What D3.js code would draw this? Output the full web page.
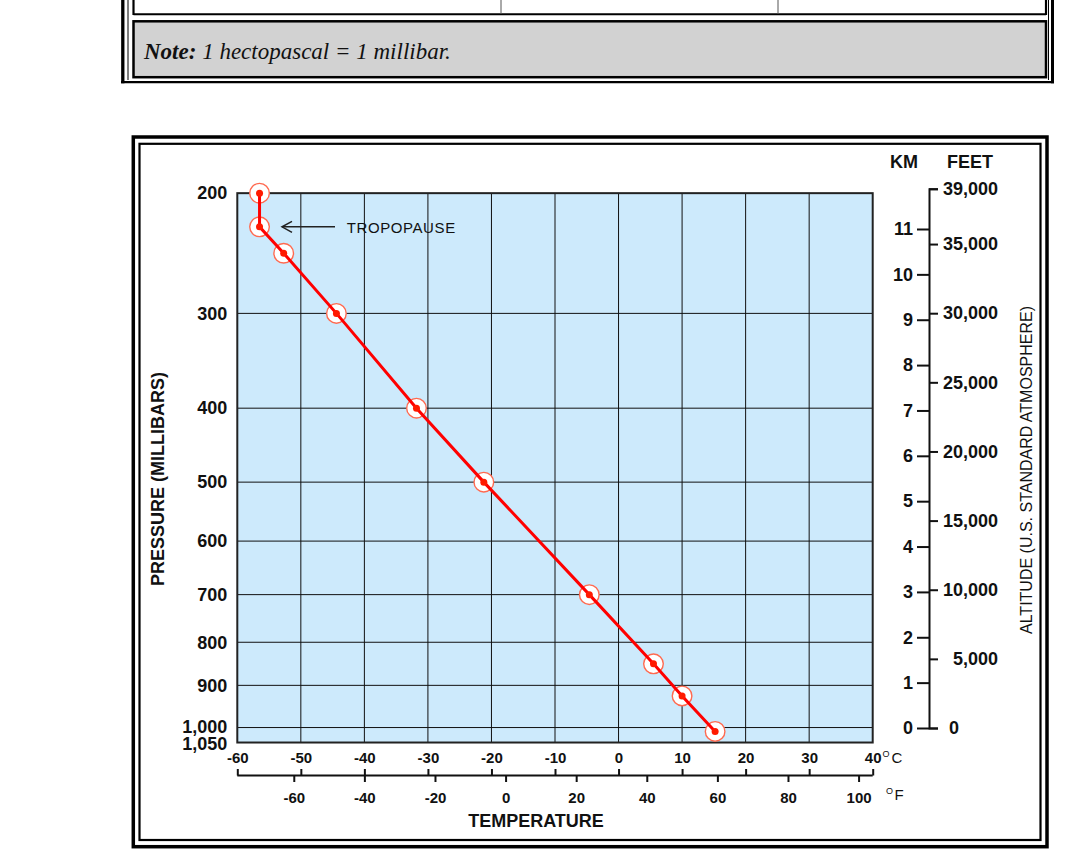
<!DOCTYPE html>
<html>
<head>
<meta charset="utf-8">
<script src="https://cdn.jsdelivr.net/npm/d3@7"></script>
<style>
  body { margin: 0; background: #fff; }
  svg { display: block; font-family: "Liberation Sans", Arial, sans-serif; }
</style>
</head>
<body>
<svg id="chart" width="1067" height="857"></svg>
<script>
// sounding values
const tempC = [-56.5, -56.5, -52.7, -44.4, -31.8, -21.2, -4.6, 5.5, 10, 15.2];
const pressMb = [200, 228, 250, 300, 400, 500, 700, 850, 925, 1013];

// pressure grid levels and the altitude (km) the chart draws each one at
const pressureTicks = [200, 300, 400, 500, 600, 700, 800, 900, 1000, 1050];
const pressureHeightKm = [11.79, 9.14, 7.05, 5.42, 4.12, 2.94, 1.89, 0.94, 0.01, -0.32];

const celsiusTicks = [-60, -50, -40, -30, -20, -10, 0, 10, 20, 30, 40];
const fahrenheitTicks = [-60, -40, -20, 0, 20, 40, 60, 80, 100];
const kmTicks = [0, 1, 2, 3, 4, 5, 6, 7, 8, 9, 10, 11];
const feetTicks = [0, 5000, 10000, 15000, 20000, 25000, 30000, 35000, 39000];

const svg = d3.select("#chart");
const plain = d => String(d);               // hyphen minus, like the original
const commas = d => d.toLocaleString("en-US");

// ---- top fragment: table cell + note box ----
const header = svg.append("g");
header.append("line").attr("x1", 122.8).attr("x2", 122.8).attr("y1", 0).attr("y2", 83.3)
  .attr("stroke", "#000").attr("stroke-width", 3.3);
header.append("line").attr("x1", 128).attr("x2", 128).attr("y1", 0).attr("y2", 80)
  .attr("stroke", "#000").attr("stroke-width", 1);
header.append("line").attr("x1", 121).attr("x2", 1054).attr("y1", 82.2).attr("y2", 82.2)
  .attr("stroke", "#000").attr("stroke-width", 2.3);
header.append("line").attr("x1", 1052.5).attr("x2", 1052.5).attr("y1", 0).attr("y2", 83.3)
  .attr("stroke", "#000").attr("stroke-width", 3);
header.append("line").attr("x1", 1048.5).attr("x2", 1048.5).attr("y1", 0).attr("y2", 80)
  .attr("stroke", "#000").attr("stroke-width", 1);
// cell row above
header.append("line").attr("x1", 133.5).attr("x2", 1046).attr("y1", 14.3).attr("y2", 14.3)
  .attr("stroke", "#000").attr("stroke-width", 2);
header.append("line").attr("x1", 133.5).attr("x2", 133.5).attr("y1", 0).attr("y2", 15)
  .attr("stroke", "#000").attr("stroke-width", 2.2);
header.append("line").attr("x1", 1046).attr("x2", 1046).attr("y1", 0).attr("y2", 15)
  .attr("stroke", "#000").attr("stroke-width", 2.2);
[501, 778].forEach(function(x) {
  header.append("line").attr("x1", x).attr("x2", x).attr("y1", 0).attr("y2", 14)
    .attr("stroke", "#555").attr("stroke-width", 1);
});
// note box
header.append("rect").attr("x", 133.5).attr("y", 21.3).attr("width", 912.5).attr("height", 55.9)
  .attr("fill", "#d2d2d2").attr("stroke", "#000").attr("stroke-width", 2.5);
const note = header.append("text").attr("x", 144).attr("y", 59)
  .style("font-family", "'Liberation Serif', 'Times New Roman', serif")
  .style("font-size", "23px").style("font-style", "italic").attr("fill", "#111");
note.append("tspan").style("font-weight", "bold").text("Note:");
note.append("tspan").text(" 1 hectopascal = 1 millibar.");

// ---- chart frame ----
svg.append("rect").attr("x", 133.3).attr("y", 137).attr("width", 1047 - 133.3).attr("height", 846.7 - 137)
  .attr("fill", "none").attr("stroke", "#000").attr("stroke-width", 3.5);
svg.append("rect").attr("x", 139.5).attr("y", 143.8).attr("width", 1040.5 - 139.5).attr("height", 840 - 143.8)
  .attr("fill", "none").attr("stroke", "#000").attr("stroke-width", 2.2);

// ---- scales ----
const xC = d3.scaleLinear().domain([-60, 40]).range([237.3, 872.7]);
const f2c = function(f) { return (f - 32) * 5 / 9; };
const xF = d3.scaleLinear().domain([-60, 100]).range([xC(f2c(-60)), xC(f2c(100))]);
const yKm = d3.scaleLinear().domain([0, 11]).range([728, 229]);
const yP = d3.scaleLinear().domain(pressureTicks).range(pressureHeightKm.map(yKm));
const yFt = d3.scaleLinear().domain([0, 39000]).range([yKm(0), yKm(39000 * 0.0003048)]);

const plotTop = yP(200), plotBottom = yP(1050);

// ---- plot area and grid ----
svg.append("rect").attr("x", xC(-60)).attr("y", plotTop)
  .attr("width", xC(40) - xC(-60)).attr("height", plotBottom - plotTop)
  .attr("fill", "#cdeafc");

const grid = svg.append("g").attr("stroke", "#111").attr("stroke-width", 1);
grid.selectAll(".vg").data(celsiusTicks.slice(1, -1)).enter().append("line")
  .attr("x1", d => xC(d)).attr("x2", d => xC(d)).attr("y1", plotTop).attr("y2", plotBottom);
grid.selectAll(".hg").data(pressureTicks.slice(1, -1)).enter().append("line")
  .attr("x1", xC(-60)).attr("x2", xC(40)).attr("y1", d => yP(d)).attr("y2", d => yP(d));

svg.append("rect").attr("x", xC(-60)).attr("y", plotTop)
  .attr("width", xC(40) - xC(-60)).attr("height", plotBottom - plotTop)
  .attr("fill", "none").attr("stroke", "#222").attr("stroke-width", 2);

// ---- pressure axis ----
const pAxis = svg.append("g").attr("transform", "translate(" + xC(-60) + ",0)")
  .call(d3.axisLeft(yP).tickValues(pressureTicks).tickFormat(commas).tickSize(0).tickPadding(10));
pAxis.select(".domain").remove();
pAxis.selectAll("text").style("font-size", "18px").style("font-weight", "bold").attr("fill", "#111")
  .attr("dy", d => d === 1000 ? "0.26em" : d === 1050 ? "0.38em" : "0.32em");

// ---- celsius labels under plot ----
const cAxis = svg.append("g").attr("transform", "translate(0," + plotBottom + ")")
  .call(d3.axisBottom(xC).tickValues(celsiusTicks).tickFormat(plain).tickSize(0).tickPadding(9.5));
cAxis.select(".domain").remove();
cAxis.selectAll("text").style("font-size", "15px").style("font-weight", "bold").attr("fill", "#111");

// ---- combined C / F tick bar ----
const barY = 775.5;
svg.append("line").attr("x1", xC(-60)).attr("x2", xC(40)).attr("y1", barY).attr("y2", barY)
  .attr("stroke", "#111").attr("stroke-width", 2);
const cTickAxis = svg.append("g").attr("transform", "translate(0," + barY + ")")
  .call(d3.axisTop(xC).tickValues(celsiusTicks).tickSize(6.5).tickFormat(""));
cTickAxis.select(".domain").remove();
cTickAxis.selectAll("line").attr("stroke", "#111").attr("stroke-width", 2);
const fAxis = svg.append("g").attr("transform", "translate(0," + barY + ")")
  .call(d3.axisBottom(xF).tickValues(fahrenheitTicks).tickFormat(plain).tickSize(6.5).tickPadding(10));
fAxis.select(".domain").remove();
fAxis.selectAll("line").attr("stroke", "#111").attr("stroke-width", 2);
fAxis.selectAll("text").style("font-size", "15px").style("font-weight", "bold").attr("fill", "#111");

// unit marks
svg.append("text").attr("x", 882.5).attr("y", 757.3).style("font-size", "9px").attr("fill", "#111").text("O");
svg.append("text").attr("x", 891.5).attr("y", 763.3).style("font-size", "15px").attr("fill", "#111").text("C");
svg.append("text").attr("x", 886).attr("y", 793.5).style("font-size", "9px").attr("fill", "#111").text("O");
svg.append("text").attr("x", 894.5).attr("y", 800.3).style("font-size", "15px").attr("fill", "#111").text("F");

svg.append("text").attr("x", 536).attr("y", 827.3).attr("text-anchor", "middle")
  .style("font-size", "18px").style("font-weight", "bold").attr("fill", "#111").text("TEMPERATURE");

svg.append("text").attr("transform", "translate(164,479) rotate(-90)").attr("text-anchor", "middle")
  .style("font-size", "18px").style("font-weight", "bold").attr("fill", "#111").text("PRESSURE (MILLIBARS)");

// ---- altitude axes ----
const altX = 929;
const kmAxis = svg.append("g").attr("transform", "translate(" + altX + ",0)")
  .call(d3.axisLeft(yKm).tickValues(kmTicks).tickFormat(plain).tickSize(12).tickPadding(4));
kmAxis.select(".domain").remove();
kmAxis.selectAll("line").attr("stroke", "#111").attr("stroke-width", 2);
kmAxis.selectAll("text").style("font-size", "18px").style("font-weight", "bold").attr("fill", "#111");

const ftAxis = svg.append("g").attr("transform", "translate(" + altX + ",0)")
  .call(d3.axisRight(yFt).tickValues(feetTicks).tickSize(9).tickSizeOuter(9).tickFormat(commas));
ftAxis.select(".domain").attr("stroke", "#111").attr("stroke-width", 2);
ftAxis.selectAll("line").attr("stroke", "#111").attr("stroke-width", 2);
ftAxis.selectAll("text").style("font-size", "18px").style("font-weight", "bold").attr("fill", "#111")
  .attr("text-anchor", d => d === 0 ? "start" : "end")
  .attr("x", d => d === 0 ? 20 : 69);

svg.append("text").attr("x", 904).attr("y", 168).attr("text-anchor", "middle")
  .style("font-size", "18px").style("font-weight", "bold").attr("fill", "#111").text("KM");
svg.append("text").attr("x", 970).attr("y", 168).attr("text-anchor", "middle")
  .style("font-size", "18px").style("font-weight", "bold").attr("fill", "#111").text("FEET");

svg.append("text").attr("transform", "translate(1032,470) rotate(-90)").attr("text-anchor", "middle")
  .style("font-size", "16px").attr("fill", "#111").text("ALTITUDE (U.S. STANDARD ATMOSPHERE)");

// ---- sounding ----
const pts = tempC.map((t, i) => ({t: t, p: pressMb[i]}));
svg.selectAll(".ring").data(pts).enter().append("circle").attr("class", "ring")
  .attr("cx", d => xC(d.t)).attr("cy", d => yP(d.p)).attr("r", 9.8)
  .attr("fill", "#fff").attr("stroke", "#ff6a50").attr("stroke-width", 1.4);
svg.append("path").datum(pts)
  .attr("d", d3.line().x(d => xC(d.t)).y(d => yP(d.p)))
  .attr("fill", "none").attr("stroke", "#ff0000").attr("stroke-width", 3);
svg.selectAll(".dot").data(pts).enter().append("circle").attr("class", "dot")
  .attr("cx", d => xC(d.t)).attr("cy", d => yP(d.p)).attr("r", 3.5)
  .attr("fill", "#ff1a00");

// ---- tropopause label ----
const tpY = yP(pressMb[1]);
svg.append("line").attr("x1", 282).attr("x2", 335).attr("y1", tpY).attr("y2", tpY)
  .attr("stroke", "#222").attr("stroke-width", 1.5);
svg.append("path").attr("d", "M292," + (tpY - 5.5) + "L282," + tpY + "L292," + (tpY + 5.5))
  .attr("fill", "none").attr("stroke", "#222").attr("stroke-width", 1.5);
svg.append("text").attr("x", 346.7).attr("y", tpY + 5.8)
  .style("font-size", "15px").style("letter-spacing", "0.6px").attr("fill", "#111").text("TROPOPAUSE");
</script>
</body>
</html>
